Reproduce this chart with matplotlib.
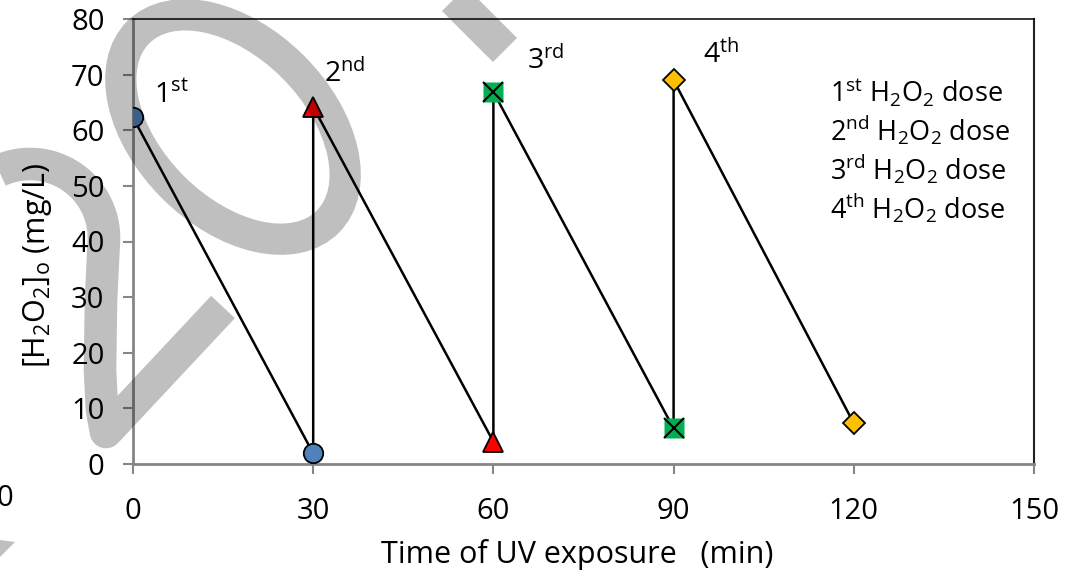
import matplotlib
matplotlib.use("Agg")
import matplotlib.pyplot as plt
from matplotlib.lines import Line2D
from matplotlib.patches import Ellipse, Polygon
import numpy as np

plt.rcParams['font.family'] = ['Open Sans', 'DejaVu Sans']
plt.rcParams['mathtext.fontset'] = 'custom'
plt.rcParams['mathtext.rm'] = 'Open Sans'
plt.rcParams['mathtext.it'] = 'Open Sans:italic'
plt.rcParams['mathtext.bf'] = 'Open Sans:bold'
plt.rcParams['mathtext.default'] = 'rm'

# ---------------- data ----------------
dose_names = ["1$^{st}$", "2$^{nd}$", "3$^{rd}$", "4$^{th}$"]
start_time = [0, 30, 60, 90]          # min
end_time = [30, 60, 90, 120]          # min
start_conc = [62.3, 64.2, 66.9, 69.0] # mg/L
end_conc = [1.9, 4.0, 6.4, 7.3]       # mg/L
legend_labels = ["1$^{st}$ H$_2$O$_2$ dose", "2$^{nd}$ H$_2$O$_2$ dose",
                 "3$^{rd}$ H$_2$O$_2$ dose", "4$^{th}$ H$_2$O$_2$ dose"]
x_ticks = [0, 30, 60, 90, 120, 150]
y_ticks = [0, 10, 20, 30, 40, 50, 60, 70, 80]

# ---------------- styles ----------------
marker_colors = ["#4F81BD", "#FF0000", "#00B050", "#FFC000"]
marker_shapes = ['o', '^', 's', 'D']
marker_sizes = [14, 15, 15, 10.8]
label_offsets_pt = [(15, 10.5), (8, 18), (24.5, 16.5), (21, 12.5)]

W, H = 1082, 574
fig = plt.figure(figsize=(W / 100, H / 100), dpi=100)
ax = fig.add_axes([133 / W, 1 - 464 / H, (1034 - 133) / W, (464 - 19) / H])

# connecting line through all points (decay + vertical re-dose)
xs, ys = [], []
for t0, t1, c0, c1 in zip(start_time, end_time, start_conc, end_conc):
    xs += [t0, t1]
    ys += [c0, c1]
ax.plot(xs, ys, color='black', lw=1.8, zorder=2, solid_joinstyle='miter')

for i in range(4):
    xx = [start_time[i], end_time[i]]
    yy = [start_conc[i], end_conc[i]]
    if marker_shapes[i] == 's':
        ax.plot(xx, yy, ls='none', marker='s', ms=marker_sizes[i],
                mfc=marker_colors[i], mec='none', zorder=3)
        ax.plot(xx, yy, ls='none', marker='x', ms=marker_sizes[i] - 0.5,
                mec='black', mew=1.5, zorder=4)
    else:
        ax.plot(xx, yy, ls='none', marker=marker_shapes[i], ms=marker_sizes[i],
                mfc=marker_colors[i], mec='black', mew=1.3, zorder=3)
    ax.annotate(dose_names[i], xy=(start_time[i], start_conc[i]),
                xytext=label_offsets_pt[i], textcoords='offset points',
                ha='left', va='baseline', fontsize=20.5, zorder=5)

ax.set_xlim(0, 150)
ax.set_ylim(0, 80)
ax.set_xticks(x_ticks)
ax.set_yticks(y_ticks)
ax.tick_params(axis='both', labelsize=21, color='#868686', width=1.5,
               length=7.5, direction='out')
ax.tick_params(axis='y', pad=13)
ax.tick_params(axis='x', pad=16)
for s in ['left', 'bottom']:
    ax.spines[s].set_color('#868686')
    ax.spines[s].set_linewidth(2.0)
ax.spines['top'].set_color('black')
ax.spines['top'].set_linewidth(1.1)
ax.spines['right'].set_color('#222222')
ax.spines['right'].set_linewidth(1.5)

# legend (text only)
handles = [Line2D([], [], ls='none', marker='none') for _ in legend_labels]
leg = ax.legend(handles, legend_labels, loc='upper left',
                bbox_to_anchor=((830 - 133) / (1034 - 133), 1 - (77 - 19) / (464 - 19)),
                frameon=False, handlelength=0, handletextpad=0, fontsize=19.5,
                labelspacing=0.18, borderpad=0, borderaxespad=0)

fig.text(38 / W, 1 - 265 / H, "[H$_2$O$_2$]$_\\mathrm{o}$ (mg/L)", rotation=90,
         ha='center', va='center', fontsize=22)
fig.text(577 / W, 1 - 555 / H, "Time of UV exposure   (min)",
         ha='center', va='center', fontsize=22)
fig.text(13 / W, 1 - 499 / H, "0", ha='right', va='center', fontsize=21)

# ---------------- semi-transparent watermark overlay ----------------
wm = fig.add_axes([0, 0, 1, 1], zorder=10)
wm.set_xlim(0, W)
wm.set_ylim(H, 0)
wm.axis('off')
wm.patch.set_visible(False)
shade = (0, 0, 0, 0.25)
wm.add_patch(Ellipse((233, 127), width=2 * 134, height=2 * 85, angle=45,
                     fill=False, lw=22.5, ec=shade))
t = np.linspace(np.pi, 0, 60)
px = list(30 + 74 * np.cos(t)) + [101, 100, 102, 106, 223]
py = list(238 - 74 * np.sin(t)) + [300, 370, 410, 432, 307]
wm.plot(px, py, color=shade, lw=23.5, solid_joinstyle='round',
        solid_capstyle='butt')
wm.plot([380, 505], [-75, 50], color=shade, lw=24.5, solid_capstyle='butt')
wm.add_patch(Polygon([(0, 540), (15, 542), (0, 557)], closed=True,
                     fc=shade, ec='none'))

fig.savefig("out.png", dpi=100)
